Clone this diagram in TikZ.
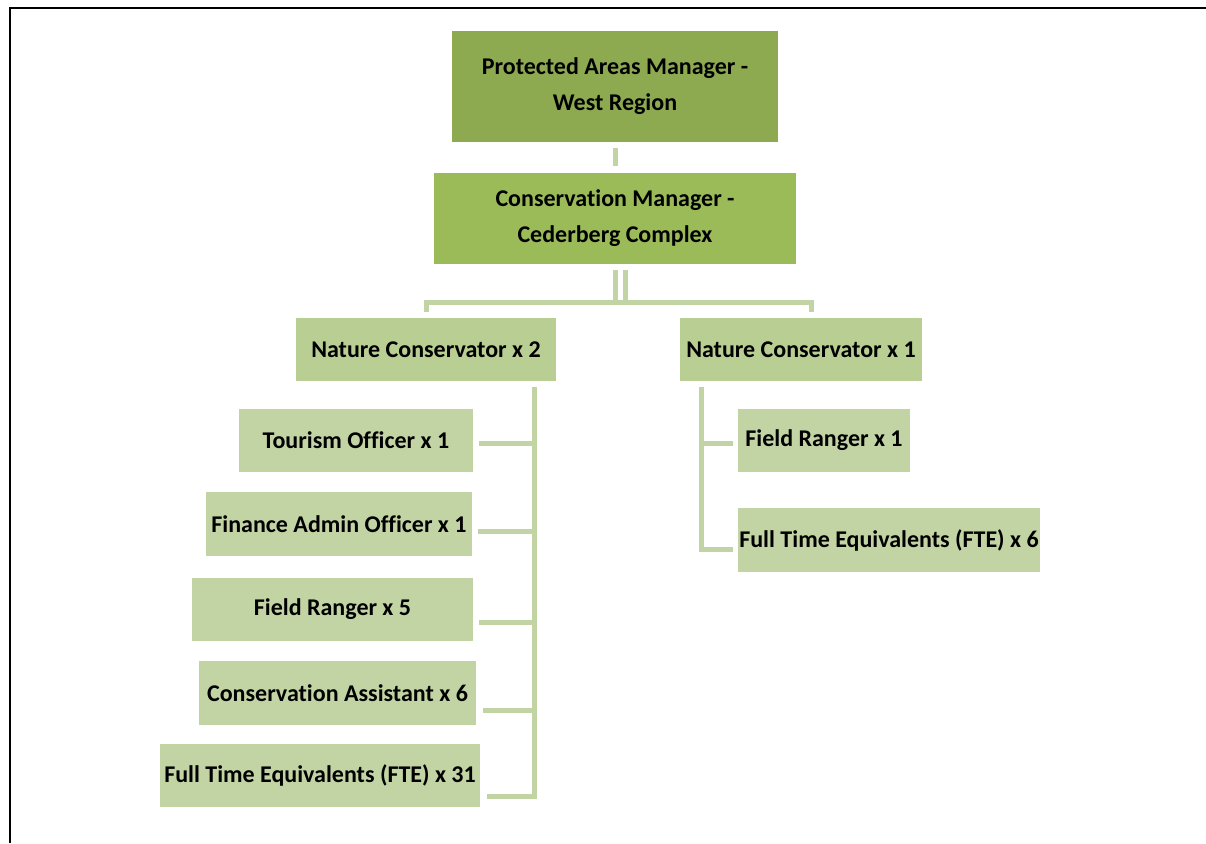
\documentclass[tikz,border=0pt]{standalone}
\usepackage{fontspec}
\setmainfont{Carlito}[Ligatures={NoCommon}]
\definecolor{topgreen}{RGB}{142,170,80}
\definecolor{midgreen}{RGB}{155,187,89}
\definecolor{ncgreen}{RGB}{185,206,146}
\definecolor{lowgreen}{RGB}{195,212,164}
\tikzset{
  box/.style={inner sep=0pt, align=center, font=\fontsize{24}{36}\selectfont\bfseries},
  link/.style={draw=lowgreen, line width=5pt},
}
\begin{document}
\begin{tikzpicture}[x=1pt,y=-1pt]
\useasboundingbox (0,0) rectangle (1206,843);
\draw[line width=2pt] (10,843) -- (10,8.5) -- (1206,8.5);

% managers
\node[box, fill=topgreen, minimum width=326pt, minimum height=111pt] (pam) at (615,86.5) {Protected Areas Manager -\\West Region};
\node[box, fill=midgreen, minimum width=362pt, minimum height=91pt] (cm) at (615,218.5) {Conservation Manager -\\Cederberg Complex};

% nature conservators
\node[box, fill=ncgreen, minimum width=260pt, minimum height=63pt] (ncA) at (426,349.5) {Nature Conservator x 2};
\node[box, fill=ncgreen, minimum width=242pt, minimum height=63pt] (ncB) at (801,349.5) {Nature Conservator x 1};

% left staff
\node[box, fill=lowgreen, minimum width=234pt, minimum height=63pt] (tour) at (356,440.5) {Tourism Officer x 1};
\node[box, fill=lowgreen, minimum width=266pt, minimum height=64pt] (fin) at (339,524) {Finance Admin Officer x 1};
\node[box, fill=lowgreen, minimum width=281pt, minimum height=63pt] (frA) at (332.5,609.5) {Field Ranger x 5};
\node[box, fill=lowgreen, minimum width=277pt, minimum height=64pt] (ca) at (337.5,693) {Conservation Assistant x 6};
\node[box, fill=lowgreen, minimum width=320pt, minimum height=63pt] (fteA) at (320,775.5) {Full Time Equivalents (FTE) x 31};

% right staff
\node[box, fill=lowgreen, minimum width=172pt, minimum height=63pt] (frB) at (824,440.5) {Field Ranger x 1};
\node[box, fill=lowgreen, minimum width=302pt, minimum height=64pt] (fteB) at (889,540) {Full Time Equivalents (FTE) x 6};

% connectors
\draw[link] ([yshift=-6pt]pam.south) -- ([yshift=7pt]cm.north);
\foreach \dx in {0.5,10} {
  \draw[link] ([xshift=\dx pt,yshift=-6pt]cm.south) -- ++(0,32);
}
\coordinate (split) at ([yshift=-38pt]cm.south);
\draw[link] ([yshift=6pt]ncA.north) |- (split) -| ([xshift=10.5pt,yshift=6pt]ncB.north);

\draw[link] ([xshift=-21.5pt,yshift=-6pt]ncA.south east) |- ([xshift=7pt,yshift=-21pt]fteA.east);
\draw[link] ([xshift=6pt,yshift=-3pt]tour.east) -- ++(55.5,0);
\draw[link] ([xshift=6pt,yshift=-7.5pt]fin.east) -- ++(56.5,0);
\draw[link] ([xshift=6pt,yshift=-13pt]frA.east) -- ++(55.5,0);
\draw[link] ([xshift=7pt,yshift=-17.5pt]ca.east) -- ++(51.5,0);

\draw[link] ([xshift=22pt,yshift=-6pt]ncB.south west) |- ([xshift=-5pt,yshift=-9.5pt]fteB.west);
\draw[link] ([xshift=-5pt,yshift=-3pt]frB.west) -- ++(-31,0);

\end{tikzpicture}
\end{document}
